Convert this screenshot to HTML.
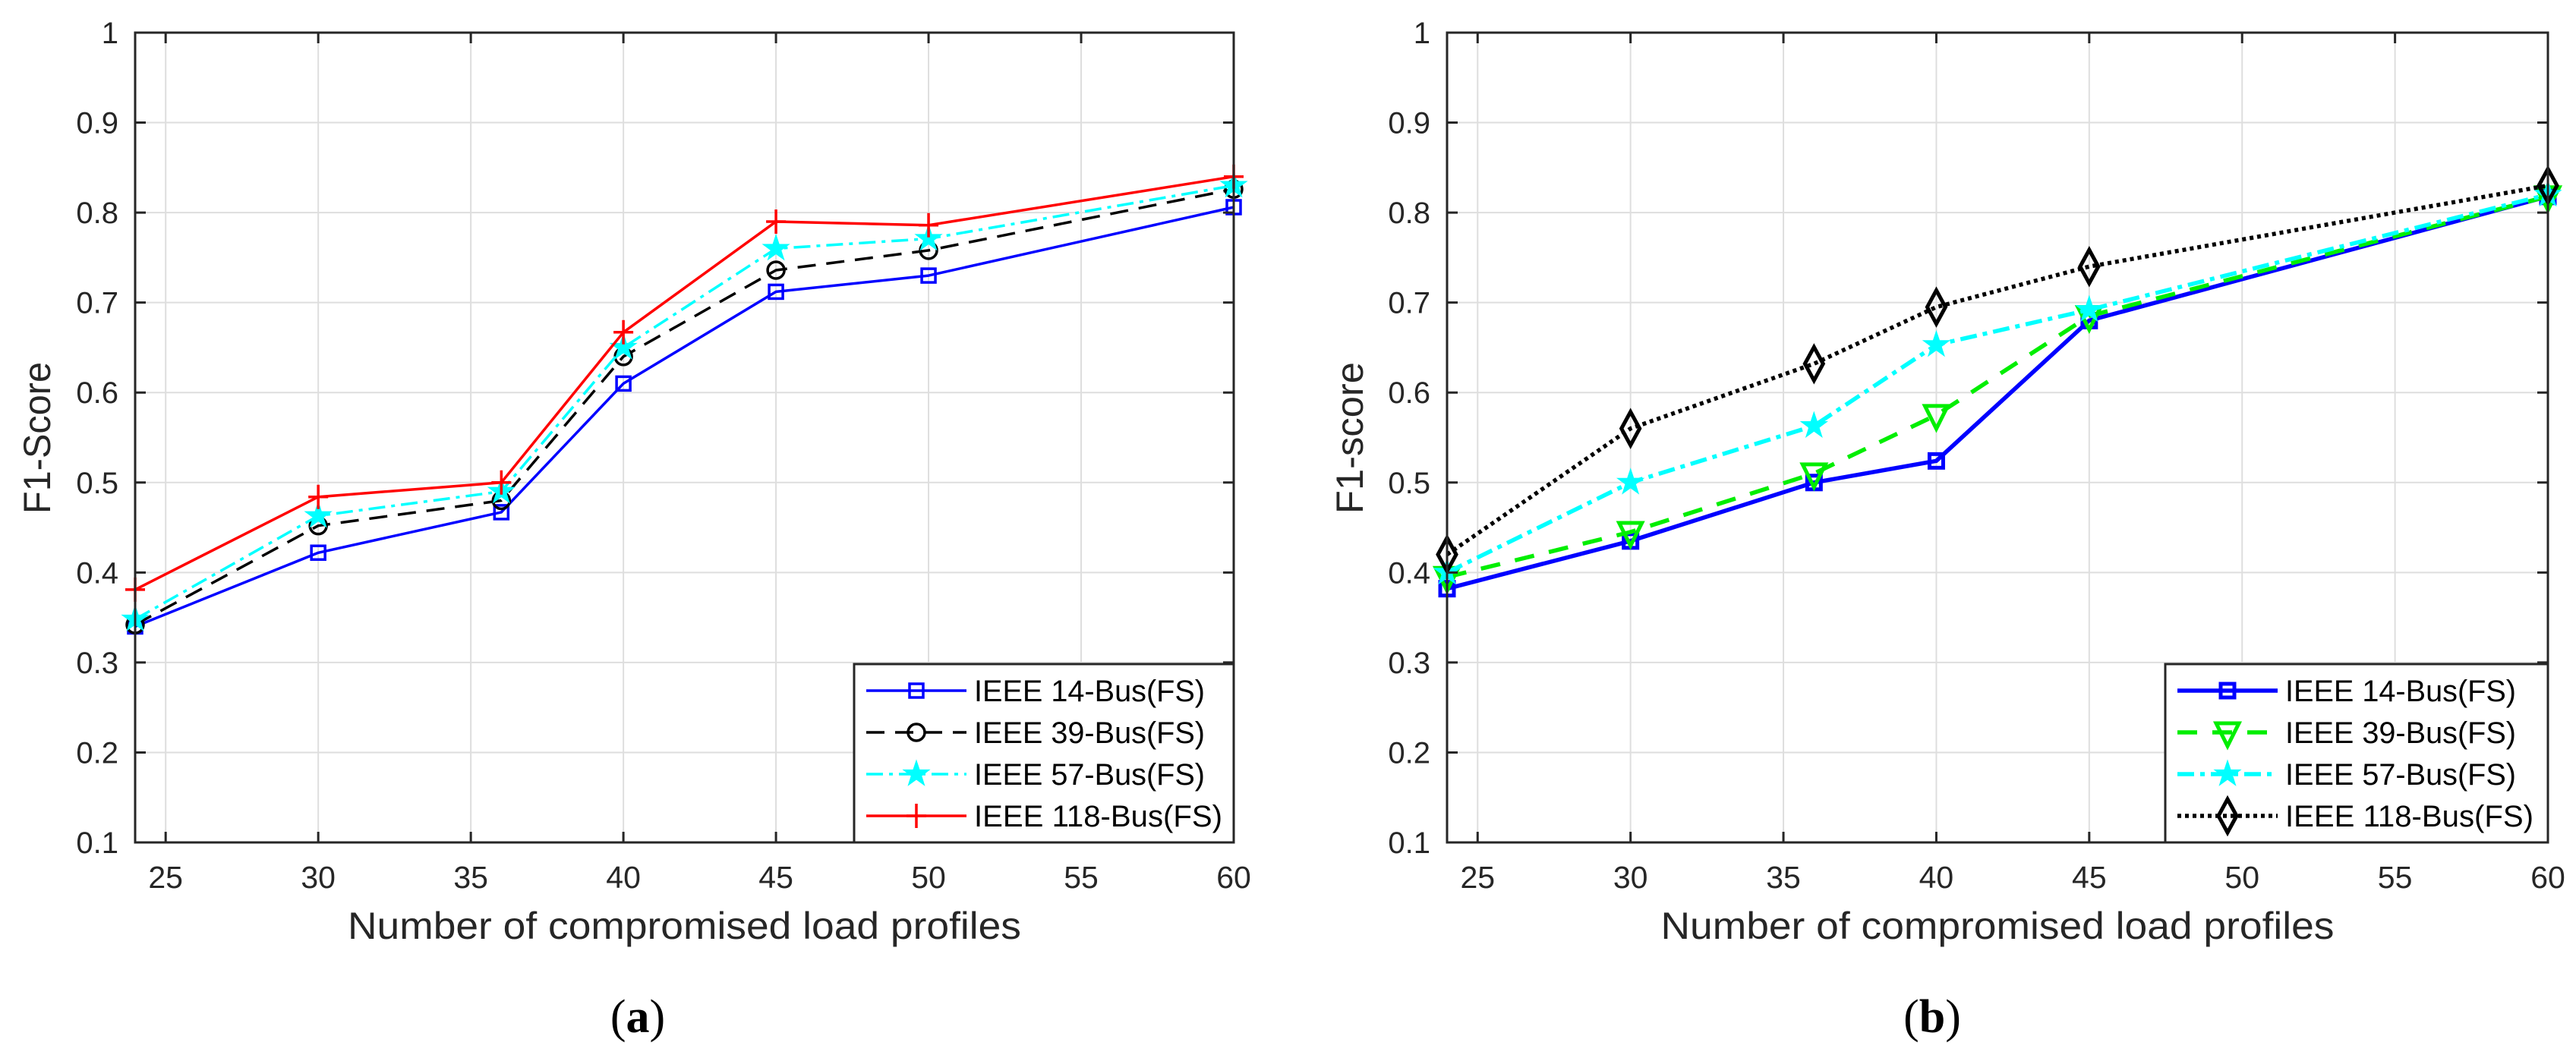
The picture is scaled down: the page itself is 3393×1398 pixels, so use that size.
<!DOCTYPE html>
<html><head><meta charset="utf-8"><style>
html,body{margin:0;padding:0;background:#fff;}
svg{display:block;font-family:"Liberation Sans",Arial,sans-serif;}
</style></head><body>
<svg id="chart" width="3393" height="1398" viewBox="0 0 3393 1398" xmlns="http://www.w3.org/2000/svg"></svg>
<script>
const xCats = [24, 30, 36, 40, 45, 50, 60];
const xTicks = [25, 30, 35, 40, 45, 50, 55, 60];
const yTicks = [0.1, 0.2, 0.3, 0.4, 0.5, 0.6, 0.7, 0.8, 0.9, 1];
const yTickLabels = ["0.1","0.2","0.3","0.4","0.5","0.6","0.7","0.8","0.9","1"];
const aBus14 = [0.340, 0.422, 0.467, 0.610, 0.712, 0.730, 0.806];
const aBus39 = [0.342, 0.452, 0.480, 0.640, 0.736, 0.758, 0.826];
const aBus57 = [0.348, 0.463, 0.490, 0.650, 0.760, 0.771, 0.830];
const aBus118 = [0.381, 0.484, 0.500, 0.667, 0.790, 0.786, 0.840];
const bCats = [24, 30, 36, 40, 45, 60];
const bBus14 = [0.382, 0.435, 0.500, 0.524, 0.680, 0.818];
const bBus39 = [0.395, 0.445, 0.510, 0.575, 0.685, 0.818];
const bBus57 = [0.400, 0.500, 0.563, 0.653, 0.692, 0.820];
const bBus118 = [0.420, 0.560, 0.632, 0.695, 0.740, 0.830];
const legendA = ["IEEE 14-Bus(FS)","IEEE 39-Bus(FS)","IEEE 57-Bus(FS)","IEEE 118-Bus(FS)"];
const legendB = ["IEEE 14-Bus(FS)","IEEE 39-Bus(FS)","IEEE 57-Bus(FS)","IEEE 118-Bus(FS)"];

const NS = "http://www.w3.org/2000/svg";
const svg = document.getElementById('chart');
function mk(tag, attrs, parent){ const e=document.createElementNS(NS,tag); for(const k in attrs) e.setAttribute(k,attrs[k]); (parent||svg).appendChild(e); return e; }

function marker(g, type, cx, cy, color, sw){
  let e;
  if(type==='square'){ e=mk('rect',{x:cx-9,y:cy-9,width:18,height:18,fill:'none',stroke:color,'stroke-width':sw},g); }
  else if(type==='circle'){ e=mk('circle',{cx:cx,cy:cy,r:11,fill:'none',stroke:color,'stroke-width':sw},g); }
  else if(type==='plus'){ e=mk('path',{d:`M${cx-13},${cy}H${cx+13}M${cx},${cy-16}V${cy+16}`,stroke:color,'stroke-width':sw,fill:'none'},g); }
  else if(type==='star'){ let p=[]; for(let i=0;i<10;i++){const r=i%2?7:18;const a=-Math.PI/2+i*Math.PI/5;p.push((cx+r*Math.cos(a)).toFixed(1)+','+(cy+r*Math.sin(a)).toFixed(1));} e=mk('polygon',{points:p.join(' '),fill:color,stroke:color,'stroke-width':1},g); }
  else if(type==='tri'){ e=mk('polygon',{points:`${cx-15},${cy-12} ${cx+15},${cy-12} ${cx},${cy+18}`,fill:'none',stroke:color,'stroke-width':sw},g); }
  else if(type==='diamond'){ e=mk('polygon',{points:`${cx},${cy-22} ${cx+12},${cy} ${cx},${cy+22} ${cx-12},${cy}`,fill:'none',stroke:color,'stroke-width':sw},g); }
  
  
}

function panel(cfg){
  const X0=cfg.x0, X1=cfg.x1, Y0=43, Y1=1110;
  const sx=v=>X0+(v-24)/(60-24)*(X1-X0);
  const sy=v=>Y1-(v-0.1)/(1-0.1)*(Y1-Y0);
  const g=mk('g',{});
  
  
  xTicks.forEach(t=>{ const l=mk('line',{x1:sx(t),x2:sx(t),y1:Y0,y2:Y1,stroke:'#dedede','stroke-width':2},g);   });
  yTicks.forEach(t=>{ const l=mk('line',{x1:X0,x2:X1,y1:sy(t),y2:sy(t),stroke:'#dedede','stroke-width':2},g);   });
  cfg.series.forEach(s=>{
    const sg=mk('g',{},g);
    
    
    const pts=s.vals.map((v,i)=>sx(cfg.cats[i]).toFixed(1)+','+sy(v).toFixed(1)).join(' ');
    const pl=mk('polyline',{points:pts,fill:'none',stroke:s.color,'stroke-width':s.w,'stroke-dasharray':s.dash||'none','stroke-linejoin':'round'},sg);
    
    
    s.vals.forEach((v,i)=>marker(sg,s.marker,sx(cfg.cats[i]),sy(v),s.color,s.msw));
  });
  const box=mk('rect',{x:X0,y:Y0,width:X1-X0,height:Y1-Y0,fill:'none',stroke:'#262626','stroke-width':3},g);
   
  xTicks.forEach(t=>{
    mk('path',{d:`M${sx(t)},${Y1}V${Y1-14}M${sx(t)},${Y0}V${Y0+14}`,stroke:'#262626','stroke-width':3},g);
    const tx=mk('text',{x:sx(t),y:1170,'font-size':41,fill:'#262626','text-anchor':'middle'},g);
    tx.textContent=t;
     
  });
  yTicks.forEach((t,i)=>{
    mk('path',{d:`M${X0},${sy(t)}H${X0+14}M${X1},${sy(t)}H${X1-14}`,stroke:'#262626','stroke-width':3},g);
    const tx=mk('text',{x:X0-22,y:sy(t)+14,'font-size':40,fill:'#262626','text-anchor':'end'},g);
    tx.textContent=yTickLabels[i];
     
  });
  const xl=mk('text',{x:(X0+X1)/2,y:1237,'font-size':50,fill:'#262626','text-anchor':'middle',textLength:887,lengthAdjust:'spacingAndGlyphs'},g);
  xl.textContent='Number of compromised load profiles';
   
  const yl=mk('text',{x:0,y:0,'font-size':50,fill:'#262626','text-anchor':'middle',textLength:200,lengthAdjust:'spacingAndGlyphs',transform:`translate(${cfg.ylx},577) rotate(-90)`},g);
  yl.textContent=cfg.ylabel;
   
  const lg=mk('g',{},g);
   
  mk('rect',{x:cfg.lx,y:875,width:X1-cfg.lx,height:Y1-875,fill:'#fff',stroke:'#262626','stroke-width':3},lg);
  cfg.series.forEach((s,i)=>{
    const ey=910+i*55;
    const eg=mk('g',{},lg);
     
    mk('line',{x1:cfg.lx+16,x2:cfg.lx+148,y1:ey,y2:ey,stroke:s.color,'stroke-width':s.w,'stroke-dasharray':s.dash||'none'},eg);
    marker(eg,s.marker,cfg.lx+82,ey,s.color,s.msw);
    const t=mk('text',{x:cfg.lx+158,y:ey+14,'font-size':40,fill:'#000',textLength:(i===3?327:304),lengthAdjust:'spacingAndGlyphs'},eg);
    t.textContent=cfg.legend[i];
  });
  const cap=mk('text',{x:cfg.capx,y:1360,'font-size':62,fill:'#000','text-anchor':'middle','font-family':'"Liberation Serif",serif'},g);
  cap.innerHTML='(<tspan font-weight="bold">'+cfg.cap+'</tspan>)';
   
}

panel({name:'panel-a',x0:178,x1:1625,ylx:66,ylabel:'F1-Score',lx:1125,capx:840,cap:'a',cats:xCats,legend:legendA,
  series:[
    {name:'ieee-14-bus',vals:aBus14,color:'#0000ff',w:3.5,marker:'square',msw:3.5},
    {name:'ieee-39-bus',vals:aBus39,color:'#000000',w:3.5,dash:'24 14',marker:'circle',msw:3.5},
    {name:'ieee-57-bus',vals:aBus57,color:'#00ffff',w:3.5,dash:'22 8 5 8',marker:'star',msw:3},
    {name:'ieee-118-bus',vals:aBus118,color:'#ff0000',w:3.5,marker:'plus',msw:3.5}
  ]});
panel({name:'panel-b',x0:1906,x1:3356,ylx:1795,ylabel:'F1-score',lx:2852,capx:2545,cap:'b',cats:bCats,legend:legendB,
  series:[
    {name:'ieee-14-bus',vals:bBus14,color:'#0000ff',w:5.5,marker:'square',msw:5},
    {name:'ieee-39-bus',vals:bBus39,color:'#00ee00',w:5.5,dash:'26 20',marker:'tri',msw:5},
    {name:'ieee-57-bus',vals:bBus57,color:'#00ffff',w:5.5,dash:'22 8 6 8',marker:'star',msw:4},
    {name:'ieee-118-bus',vals:bBus118,color:'#000000',w:5.5,dash:'5 5',marker:'diamond',msw:5}
  ]});
</script>
</body></html>
